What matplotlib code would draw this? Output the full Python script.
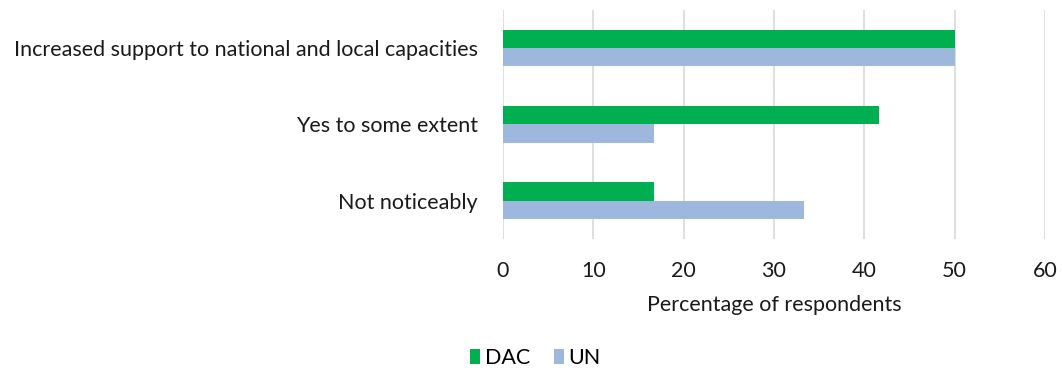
import numpy as np
import matplotlib.pyplot as plt

categories = ['Increased support to national and local capacities',
              'Yes to some extent',
              'Not noticeably']
dac = [50.0, 41.67, 16.67]
un = [50.0, 16.67, 33.33]

plt.rcParams['font.family'] = ['Lato', 'DejaVu Sans']
fs = 15.5

fig = plt.figure(figsize=(10.62, 3.71), dpi=100)
ax = fig.add_axes([0.4736, 0.356, 0.5104, 0.617])

y = np.arange(len(categories))
h = 0.24
ax.barh(y - h / 2, dac, height=h, color='#00B050', label='DAC', zorder=3)
ax.barh(y + h / 2, un, height=h, color='#9DB8DC', label='UN', zorder=3)

ax.set_ylim(len(categories) - 0.5, -0.5)
ax.set_yticks(y)
ax.set_yticklabels(categories, fontsize=fs, color='#1a1a1a')
ax.set_xlim(0, 60)
ax.set_xticks(range(0, 61, 10))
ax.tick_params(axis='x', labelsize=fs, colors='#1a1a1a', length=0, pad=16)
ax.tick_params(axis='y', length=0, pad=18)
ax.set_xlabel('Percentage of respondents', fontsize=fs, color='#1a1a1a', labelpad=10)
ax.grid(axis='x', color='#D9D9D9', linewidth=1.2, zorder=0)
for s in ax.spines.values():
    s.set_visible(False)

handles, labels = ax.get_legend_handles_labels()
fig.legend(handles, labels, loc='center', bbox_to_anchor=(0.504, 0.035), ncol=2,
           frameon=False, fontsize=fs, handlelength=0.5, handleheight=0.7,
           handletextpad=0.2, columnspacing=1.1)

fig.savefig('out.png', dpi=100, facecolor='white')
